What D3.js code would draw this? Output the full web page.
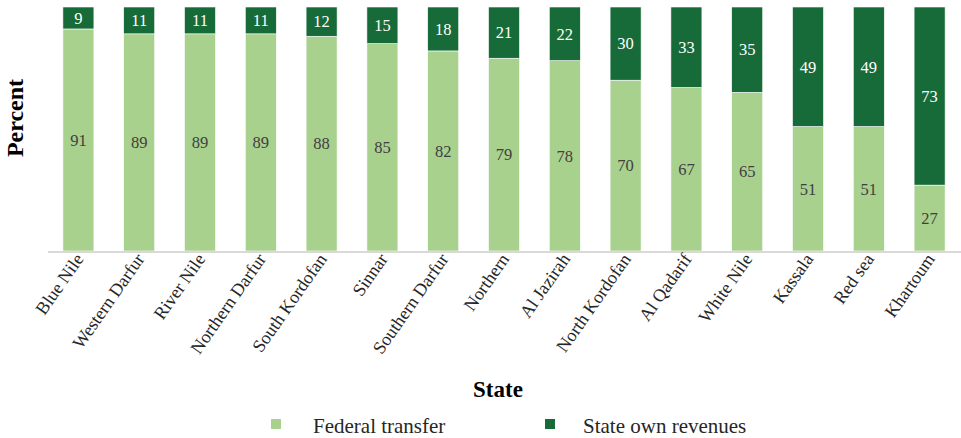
<!DOCTYPE html>
<html>
<head>
<meta charset="utf-8">
<script src="https://cdn.jsdelivr.net/npm/d3@7/dist/d3.min.js"></script>
<style>
  html, body { margin: 0; padding: 0; background: #fff; }
</style>
</head>
<body>
<svg id="chart" width="961" height="438"></svg>
<script>
// States, ordered by federal share
const states = ["Blue Nile", "Western Darfur", "River Nile", "Northern Darfur", "South Kordofan",
  "Sinnar", "Southern Darfur", "Northern", "Al Jazirah", "North Kordofan",
  "Al Qadarif", "White Nile", "Kassala", "Red sea", "Khartoum"];
// Share of revenue (percent)
const federalTransfer = [91, 89, 89, 89, 88, 85, 82, 79, 78, 70, 67, 65, 51, 51, 27];
const stateOwnRevenues = [9, 11, 11, 11, 12, 15, 18, 21, 22, 30, 33, 35, 49, 49, 73];
const seriesNames = ["Federal transfer", "State own revenues"];
const seriesColors = ["#a9d18e", "#176b38"];
const labelColors = ["#404040", "#ffffff"];

const FONT = "Liberation Serif, DejaVu Serif, serif";
const svg = d3.select("#chart").attr("font-family", FONT);
const margin = { left: 48, right: 1, top: 7, bottom: 187 };
const W = 961, H = 438;

const rows = states.map((s, i) => ({ state: s, federal: federalTransfer[i], own: stateOwnRevenues[i] }));
const stack = d3.stack().keys(["federal", "own"])(rows);

const x = d3.scaleBand().domain(states).range([margin.left, W - margin.right]).paddingInner(0.49).paddingOuter(0.245);
const y = d3.scaleLinear().domain([0, 100]).range([H - margin.bottom, margin.top]);

const layers = svg.append("g").selectAll("g").data(stack).join("g")
  .attr("fill", (d, i) => seriesColors[i]);

layers.selectAll("rect").data(d => d).join("rect")
  .attr("x", d => x(d.data.state))
  .attr("width", x.bandwidth())
  .attr("y", d => y(d[1]))
  .attr("height", d => y(d[0]) - y(d[1]))
  .attr("stroke", "#ffffff")
  .attr("stroke-width", 0.6);

// Value labels centred in each segment
stack.forEach((layer, li) => {
  svg.append("g").selectAll("text").data(layer).join("text")
    .attr("x", d => x(d.data.state) + x.bandwidth() / 2)
    .attr("y", d => (y(d[0]) + y(d[1])) / 2)
    .attr("dy", "0.35em")
    .attr("text-anchor", "middle")
    .attr("font-family", FONT)
    .attr("font-size", 16.5)
    .attr("fill", labelColors[li])
    .text(d => d[1] - d[0]);
});

// Category axis
const xAxis = svg.append("g")
  .attr("transform", `translate(0,${y(0)})`)
  .call(d3.axisBottom(x).tickSize(0).tickPadding(0))
  .attr("font-family", FONT);
xAxis.select(".domain").attr("stroke", "#d9d9d9").attr("stroke-width", 2)
  .attr("d", `M${margin.left},1H${W}`);
xAxis.selectAll("text")
  .attr("font-family", FONT)
  .attr("font-size", 18)
  .attr("fill", "#262626")
  .attr("text-anchor", "end")
  .attr("dy", null)
  .attr("transform", "translate(6,8) rotate(-55)");

// Axis titles
svg.append("text")
  .attr("transform", `translate(23,${(y(0) + y(100)) / 2 - 11}) rotate(-90)`)
  .attr("text-anchor", "middle")
  .attr("font-family", FONT)
  .attr("font-size", 24)
  .attr("font-weight", "bold")
  .text("Percent");

svg.append("text")
  .attr("x", 498).attr("y", 397)
  .attr("text-anchor", "middle")
  .attr("font-family", FONT)
  .attr("font-size", 23)
  .attr("font-weight", "bold")
  .text("State");

// Legend
const legendItems = [{ sx: 271, tx: 313 }, { sx: 545, tx: 583 }];
legendItems.forEach((p, i) => {
  svg.append("rect").attr("x", p.sx).attr("y", 419).attr("width", 10).attr("height", 10)
    .attr("fill", seriesColors[i]);
  svg.append("text").attr("x", p.tx).attr("y", 433)
    .attr("font-family", FONT)
    .attr("font-size", 21)
    .attr("fill", "#262626")
    .text(seriesNames[i]);
});
</script>
</body>
</html>
